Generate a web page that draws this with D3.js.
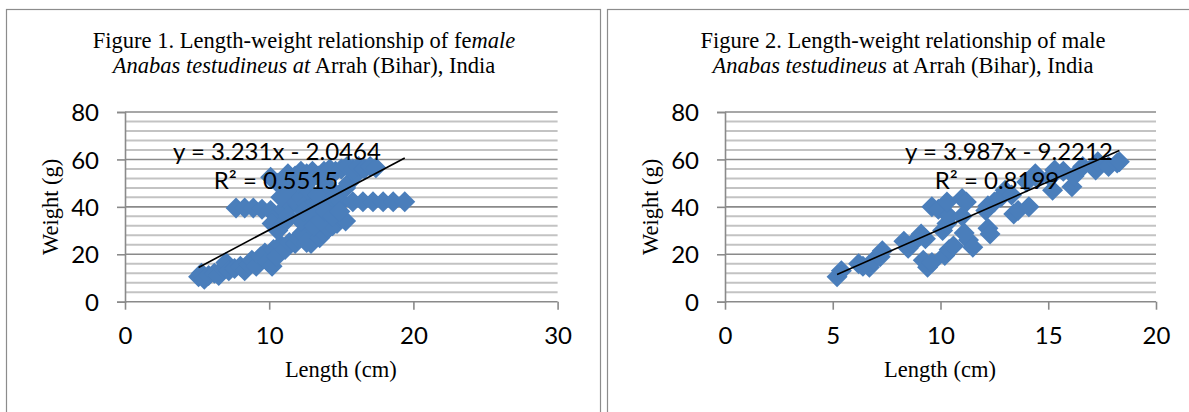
<!DOCTYPE html>
<html>
<head>
<meta charset="utf-8">
<script src="https://cdn.jsdelivr.net/npm/d3@7"></script>
<style>
  body { margin: 0; background: #fff; }
  svg { display: block; }
</style>
</head>
<body>
<div id="chart"></div>
<script>
// female: length (cm), weight (g)
const femalePoints = [
    [5.1,10.5],[5.3,12],[5.5,9.5],[5.8,11],[6.2,12],[6.5,11],[6.8,14],[7.0,16.5],[7.2,13],[7.6,14],
    [8.0,15],[8.3,13],[8.6,16],[8.8,17.5],[9.1,15],[9.4,19],[9.7,20.5],[9.9,17],[10.2,15],[10.3,22],
    [10.5,19],[10.8,24],[11.1,22],[11.4,25],[11.8,24.5],[12.0,27],[12.3,29],[12.6,25],[12.9,24.5],[13.2,30],
    [13.5,27],[13.8,29],[14.1,31],[14.4,32],[14.7,33],[15.0,35],[15.3,34],
    [7.7,39.5],[8.3,39.5],[8.9,39.5],[9.5,39],[10.1,38.5],[10.5,36],[11.0,39],[11.5,41],[12.0,41],
    [12.5,42],[13.0,41],[13.5,42],[14.0,41],[14.5,42],[15.0,42],[15.8,42.2],[16.5,42.2],[17.2,42.2],
    [17.9,42.2],[18.6,42.2],[19.4,42.2],
    [10.2,33],[10.6,30],[11.0,33],[11.3,36],[11.6,44],[11.9,46],[12.2,34],[12.4,38],[12.7,47],[13.0,36],
    [13.1,32],[13.4,45],[13.6,34],[13.9,38],[14.2,48],[14.4,36],[14.6,45],[14.9,38],[15.3,48],[15.5,50],
    [16.0,53.5],[12.0,50],[12.8,51],[13.7,51],[11.2,47],[10.8,44],
    [10.1,52.5],[10.6,50],[11.3,54],[11.8,53],[12.2,55],[12.6,54],[13.0,55],[13.4,53],[13.8,55],[14.2,56],
    [14.6,55],[15.0,56],[15.4,57],[15.8,56],[16.2,57],[16.6,56],[17.0,57],[17.4,56.5]
];

// male: length (cm), weight (g)
const malePoints = [
    [5.2,10.5],[5.4,13],[6.2,16],[6.4,15],[6.7,14.5],[6.9,17.5],[7.2,19],[7.3,21.5],
    [8.3,25.5],[8.5,22.5],[8.7,24.5],[9.1,28.5],[9.3,26.5],[9.2,17.5],[9.4,14.5],[9.6,16.5],
    [9.6,40],[9.9,39],[10.1,30],[10.3,33],[10.4,36],[10.3,42],[10.2,19.5],[10.4,22],[10.6,23.5],
    [11.0,43.5],[11.2,42],[11.0,36],[11.1,29],[11.3,26],[11.5,23],
    [12.1,38.5],[12.2,31],[12.3,28.5],[12.2,40.5],[12.5,42],[12.8,44],[13.0,47],[13.3,45],
    [13.4,37],[13.6,38.5],[14.1,40],[14.0,50.5],[14.4,54],[14.5,52],[15.1,52.5],[15.2,47],[15.3,55.5],
    [15.7,55],[16.1,48.5],[16.2,53],[16.6,57],[17.2,55.5],[17.3,59],[17.8,57],[18.2,58.5],[18.3,59]
];

// linear trendlines as printed on the charts
const femaleTrend = { slope: 3.231, intercept: -2.0464, r2: "0.5515" };
const maleTrend = { slope: 3.987, intercept: -9.2212, r2: "0.8199" };

const femaleXTicks = [0, 10, 20, 30];
const maleXTicks = [0, 5, 10, 15, 20];
const yTicks = [0, 20, 40, 60, 80];
const yMinorTicks = d3.range(0, 81, 4);

const femaleTitle = [
    [["Figure 1. Length-weight relationship of fe", false], ["male", true]],
    [["Anabas testudineus at", true], [" Arrah (Bihar), India", false]]
];
const maleTitle = [
    [["Figure 2. Length-weight relationship of male", false]],
    [["Anabas testudineus", true], [" at Arrah (Bihar), India", false]]
];

const W = 1189, H = 412;
const svg = d3.select("#chart").append("svg")
    .attr("width", W)
    .attr("height", H);

const serif = "'Liberation Serif', 'Times New Roman', serif";
const sans = "Lato, 'Open Sans', sans-serif";
const blue = "#4a7ebb";

function fmt(v) {
    return (v < 0 ? " - " : " + ") + Math.abs(v);
}

function createChart(cfg) {
    const g = svg.append("g");

    // outer frame
    g.append("rect")
        .attr("x", cfg.frame[0] + 0.5)
        .attr("y", 9.5)
        .attr("width", cfg.frame[1])
        .attr("height", 430)
        .attr("fill", "none")
        .attr("stroke", "#8c8c8c")
        .attr("stroke-width", 1.2);

    const x = d3.scaleLinear().domain(cfg.xDomain).range([cfg.left, cfg.right]);
    const y = d3.scaleLinear().domain([0, 80]).range([301.7, 112]);

    // minor gridlines
    g.selectAll(".minor")
        .data(yMinorTicks.filter(d => d % 20 !== 0))
        .enter().append("line")
        .attr("class", "minor")
        .attr("x1", cfg.left).attr("x2", cfg.right)
        .attr("y1", d => y(d)).attr("y2", d => y(d))
        .attr("stroke", "#c3c3c3")
        .attr("stroke-width", 2);

    // major gridlines
    g.selectAll(".major")
        .data(yTicks)
        .enter().append("line")
        .attr("class", "major")
        .attr("x1", cfg.left).attr("x2", cfg.right)
        .attr("y1", d => y(d)).attr("y2", d => y(d))
        .attr("stroke", "#8a8a8a")
        .attr("stroke-width", 1.6);

    // y axis
    const yAxis = g.append("g")
        .attr("transform", `translate(${cfg.left},0)`)
        .call(d3.axisLeft(y).tickValues(yTicks).tickSize(8).tickPadding(18));
    yAxis.select(".domain").attr("stroke", "#8a8a8a").attr("stroke-width", 1.6);
    yAxis.selectAll(".tick line").attr("stroke", "#8a8a8a").attr("stroke-width", 1.6);
    yAxis.selectAll("text")
        .style("font-family", sans)
        .style("font-size", "24px")
        .attr("fill", "#000")
        .attr("dy", "0.36em");

    // x axis
    const xAxis = g.append("g")
        .attr("transform", `translate(0,${y(0)})`)
        .call(d3.axisBottom(x).tickValues(cfg.xTicks).tickSize(8).tickPadding(17));
    xAxis.select(".domain").remove();
    xAxis.selectAll(".tick line").attr("stroke", "#8a8a8a").attr("stroke-width", 1.6);
    xAxis.selectAll("text")
        .style("font-family", sans)
        .style("font-size", "24px")
        .attr("fill", "#000");

    // points
    const r = 10.5;
    g.selectAll(".pt")
        .data(cfg.points)
        .enter().append("path")
        .attr("class", "pt")
        .attr("transform", d => `translate(${x(d[0])},${y(d[1])})`)
        .attr("d", `M0,${-r}L${r},0L0,${r}L${-r},0Z`)
        .attr("fill", blue);

    // trendline over the data range
    const ext = d3.extent(cfg.points, d => d[0]);
    const t = cfg.trend;
    g.append("line")
        .attr("x1", x(ext[0])).attr("y1", y(t.slope * ext[0] + t.intercept))
        .attr("x2", x(ext[1])).attr("y2", y(t.slope * ext[1] + t.intercept))
        .attr("stroke", "#000")
        .attr("stroke-width", 1.6);

    // equation
    g.append("text")
        .attr("x", cfg.eqPos[0]).attr("y", 160)
        .attr("text-anchor", "middle")
        .style("font-family", sans).style("font-size", "24px")
        .text("y = " + t.slope + "x" + fmt(t.intercept));
    g.append("text")
        .attr("x", cfg.eqPos[1]).attr("y", 189)
        .attr("text-anchor", "middle")
        .style("font-family", sans).style("font-size", "24px")
        .text("R² = " + t.r2);

    // title
    cfg.title.forEach((line, i) => {
        const tx = g.append("text")
            .attr("x", cfg.titleX)
            .attr("y", 48 + i * 25)
            .attr("text-anchor", "middle")
            .style("font-family", serif)
            .style("font-size", "22.5px");
        line.forEach(part => {
            tx.append("tspan")
                .style("font-style", part[1] ? "italic" : "normal")
                .text(part[0]);
        });
    });

    // axis titles
    g.append("text")
        .attr("x", (cfg.left + cfg.right) / 2 - 0.5)
        .attr("y", 377)
        .attr("text-anchor", "middle")
        .style("font-family", serif).style("font-size", "22.5px")
        .text("Length (cm)");
    g.append("text")
        .attr("transform", `translate(${cfg.left - 67},${y(40)}) rotate(-90)`)
        .attr("text-anchor", "middle")
        .style("font-family", serif).style("font-size", "22.5px")
        .text("Weight (g)");
}

createChart({
    frame: [6, 594],
    left: 125, right: 557.6,
    xDomain: [0, 30], xTicks: femaleXTicks,
    points: femalePoints, trend: femaleTrend,
    eqPos: [277, 276],
    title: femaleTitle, titleX: 304
});

createChart({
    frame: [607, 600],
    left: 725, right: 1156,
    xDomain: [0, 20], xTicks: maleXTicks,
    points: malePoints, trend: maleTrend,
    eqPos: [1009, 997],
    title: maleTitle, titleX: 903
});
</script>
</body>
</html>
